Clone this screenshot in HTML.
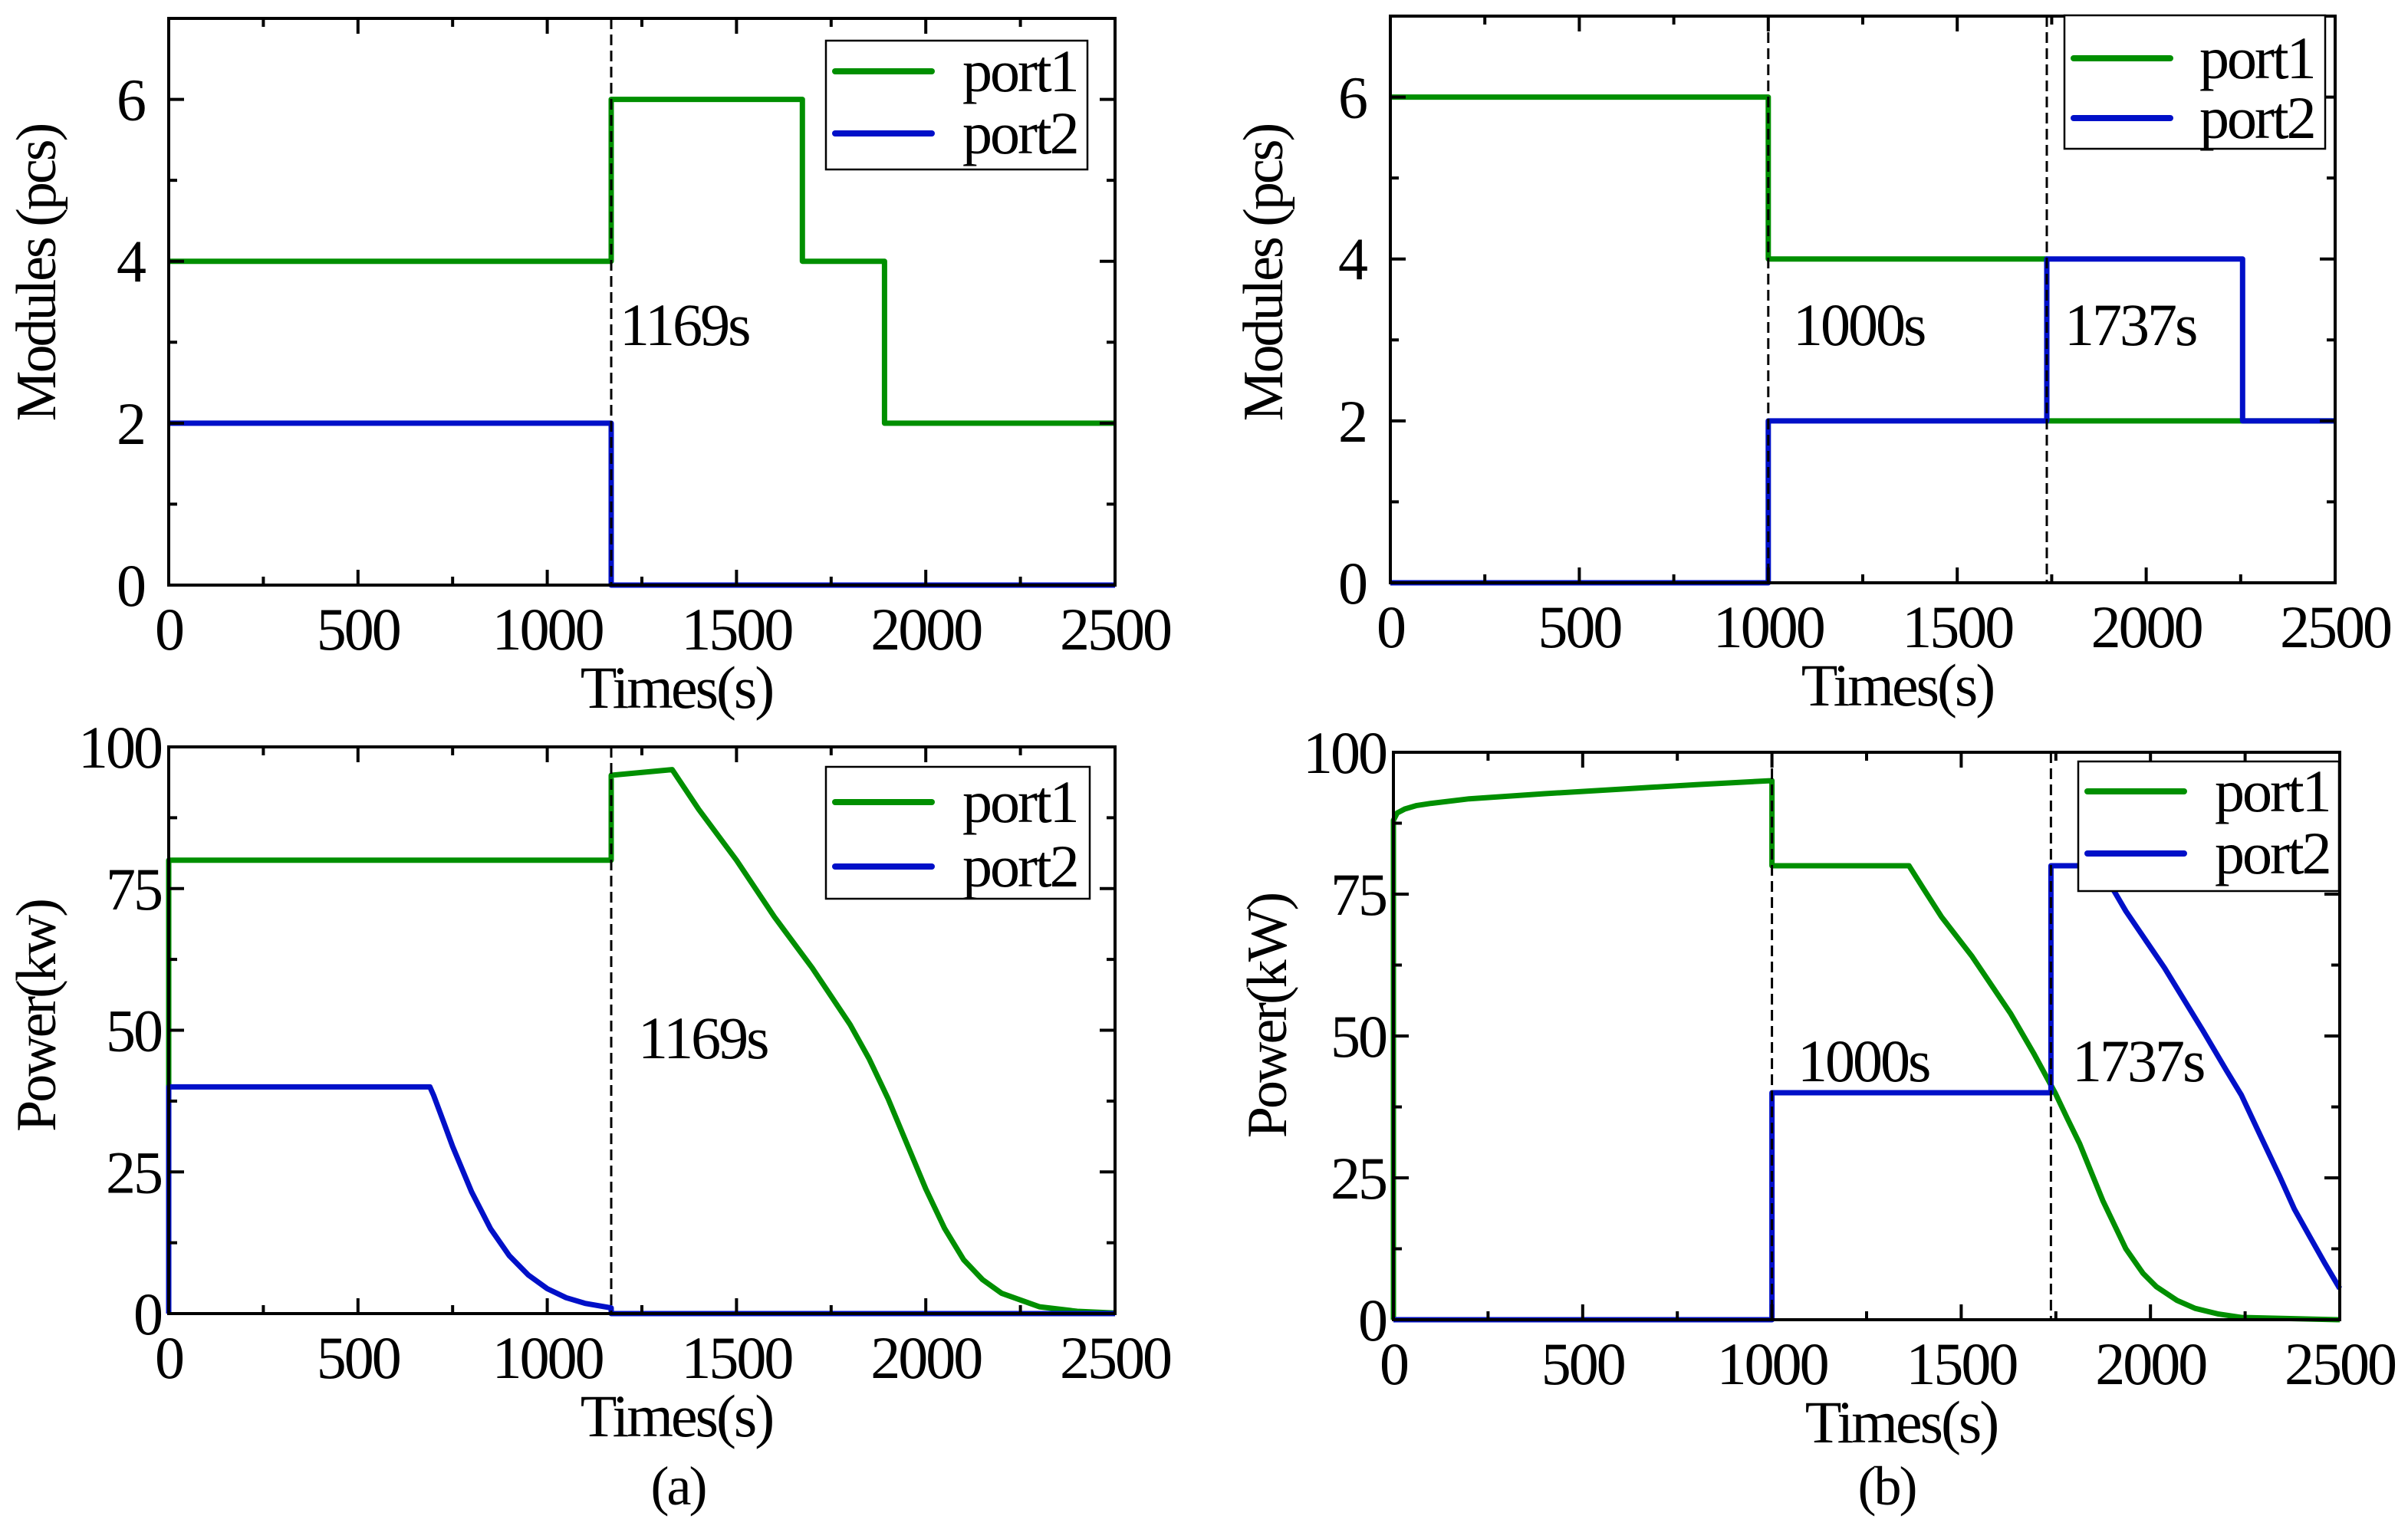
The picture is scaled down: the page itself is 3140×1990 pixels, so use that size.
<!DOCTYPE html>
<html><head><meta charset="utf-8">
<style>
html,body{margin:0;padding:0;background:#fff;}
svg{display:block;}
text{font-family:"Liberation Serif",serif;fill:#000;letter-spacing:-3px;}
</style></head>
<body>
<svg id="fig" xmlns="http://www.w3.org/2000/svg" width="3140" height="1990" viewBox="0 0 3140 1990">
<text x="884" y="1962" font-size="72" text-anchor="middle">(a)</text>
<text x="2460" y="1962" font-size="72" text-anchor="middle">(b)</text>
</svg>
<script>
// ---- data ----
// (a) modules
const aModT1 = [0, 1169, 1169, 1674, 1674, 1891, 1891, 2500];
const aModV1 = [4, 4, 6, 6, 4, 4, 2, 2];
const aModT2 = [0, 1169, 1169, 2500];
const aModV2 = [2, 2, 0, 0];
// (b) modules
const bModT1 = [0, 1000, 1000, 1737, 1737, 2500];
const bModV1 = [6, 6, 4, 4, 2, 2];
const bModT2 = [0, 1000, 1000, 1737, 1737, 2255, 2255, 2500];
const bModV2 = [0, 0, 2, 2, 4, 4, 2, 2];
// (a) power
const aPowT1 = [0, 0, 1169, 1169, 1330, 1400, 1500, 1600, 1700, 1800, 1850, 1900, 1950, 2000, 2050, 2100, 2150, 2200, 2300, 2400, 2500];
const aPowV1 = [0, 80, 80, 95, 96, 89, 80, 70, 61, 51, 45, 38, 30, 22, 15, 9.5, 6, 3.6, 1.2, 0.4, 0.1];
const aPowT2 = [0, 0, 690, 700, 725, 750, 800, 850, 900, 950, 1000, 1050, 1100, 1169, 1169, 2500];
const aPowV2 = [0, 40, 40, 38.5, 34, 29.5, 21.5, 15, 10.2, 6.8, 4.4, 2.8, 1.8, 1, 0, 0];
// (b) power
const bPowT1 = [0, 0, 10, 30, 60, 100, 200, 400, 600, 800, 1000, 1000, 1362, 1400, 1448, 1529, 1630, 1691, 1748, 1780, 1813, 1874, 1935, 1980, 2016, 2070, 2118, 2180, 2240, 2500];
const bPowV1 = [0, 88, 89.3, 90, 90.6, 91, 91.8, 92.7, 93.5, 94.3, 95, 80, 80, 76, 71, 64, 54, 47, 40, 35.5, 31, 21, 12.5, 8.2, 5.8, 3.4, 2, 1, 0.4, 0];
const bPowT2 = [0, 1000, 1000, 1737, 1737, 1853, 1900, 1935, 2037, 2138, 2200, 2240, 2290, 2341, 2380, 2422, 2460, 2500];
const bPowV2 = [0, 0, 40, 40, 80, 80, 76, 72, 62, 51, 44, 39.6, 32.5, 25.3, 19.5, 14.5, 10, 5.5];
// ticks
const xTicks = [0, 500, 1000, 1500, 2000, 2500];
const modTicks = [0, 2, 4, 6];
const powTicks = [0, 25, 50, 75, 100];

const NS = "http://www.w3.org/2000/svg";
const svg = document.getElementById('fig');
const GREEN = '#008f00', BLUE = '#0010c8';

function mk(tag, attrs, parent) {
  const e = document.createElementNS(NS, tag);
  for (const k in attrs) e.setAttribute(k, attrs[k]);
  (parent || svg).appendChild(e);
  return e;
}

function panel(p) {
  const g = mk('g', {});
  
  
  const sx = t => p.L + (t - 0) / 2500 * (p.R - p.L);
  const sy = v => p.B - (v - 0) / p.ymax * (p.B - p.T);
  p.series.forEach(s => {
    const pts = s.t.map((t, i) => sx(t).toFixed(1) + ',' + sy(s.v[i]).toFixed(1)).join(' ');
    const pl = mk('polyline', {points: pts, fill: 'none', stroke: s.color, 'stroke-width': 7, 'stroke-linejoin': 'round'}, g);
    
    
  });
  p.marks.forEach(m => {
    const ln = mk('line', {x1: sx(m), x2: sx(m), y1: p.T, y2: p.B, stroke: '#000', 'stroke-width': 3, 'stroke-dasharray': '14,7'}, g);
    
    
  });
  const fr = mk('rect', {x: p.L, y: p.T, width: p.R - p.L, height: p.B - p.T, fill: 'none', stroke: '#000', 'stroke-width': 4}, g);
  
  
  for (let t = 0; t <= 2500; t += 250) {
    const len = (t % 500 === 0) ? 20 : 11;
    mk('line', {x1: sx(t), x2: sx(t), y1: p.B, y2: p.B - len, stroke: '#000', 'stroke-width': 4}, g);
    mk('line', {x1: sx(t), x2: sx(t), y1: p.T, y2: p.T + len, stroke: '#000', 'stroke-width': 4}, g);
  }
  xTicks.forEach(t => {
    const tx = mk('text', {x: sx(t), y: p.B + 84, 'font-size': 78, 'text-anchor': 'middle'}, g);
    tx.textContent = t;
    
    
  });
  const step = p.yticks[1] - p.yticks[0];
  for (let v = 0; v <= p.ymax + 1e-9; v += step / 2) {
    const major = Math.abs(v / step - Math.round(v / step)) < 1e-6;
    const len = major ? 20 : 11;
    mk('line', {x1: p.L, x2: p.L + len, y1: sy(v), y2: sy(v), stroke: '#000', 'stroke-width': 4}, g);
    mk('line', {x1: p.R, x2: p.R - len, y1: sy(v), y2: sy(v), stroke: '#000', 'stroke-width': 4}, g);
  }
  p.yticks.forEach(v => {
    const tx = mk('text', {x: p.L - p.ylabGap, y: sy(v) + 27, 'font-size': 78, 'text-anchor': 'end'}, g);
    tx.textContent = v;
    
    
  });
  const xt = mk('text', {x: (p.L + p.R) / 2 + 45, y: p.B + 160, 'font-size': 78, 'text-anchor': 'middle'}, g);
  xt.textContent = 'Times(s)';
  
  
  const yt = mk('text', {x: 0, y: 0, 'font-size': 74, 'text-anchor': 'middle', transform: 'translate(' + (p.ytx + 45) + ',' + p.yty + ') rotate(-90)'}, g);
  yt.textContent = p.ytitle;
  
  
  p.notes.forEach(n => {
    const tx = mk('text', {x: n.x, y: n.y, 'font-size': 78}, g);
    tx.textContent = n.s;
    
    
  });
  const lg = mk('g', {}, g);
  
  
  const b = p.leg;
  mk('rect', {x: b.x, y: b.y, width: b.w, height: b.h, fill: '#fff', stroke: '#000', 'stroke-width': 2.5}, lg);
  [['port1', GREEN, b.l1], ['port2', BLUE, b.l2]].forEach(e => {
    const ent = mk('g', {}, lg);
    
    
    mk('line', {x1: b.x + 12, x2: b.x + 138, y1: e[2], y2: e[2], stroke: e[1], 'stroke-width': 8, 'stroke-linecap': 'round'}, ent);
    const tx = mk('text', {x: b.x + b.tx, y: e[2] + 26, 'font-size': 78}, ent);
    tx.textContent = e[0];
  });
}

panel({name: 'modules-chart-a', L: 220, R: 1454, T: 24, B: 763, ymax: 7, yticks: modTicks, ylabGap: 32,
  ytitle: 'Modules (pcs)', ytx: 27, yty: 356, marks: [1169],
  series: [{id: 'port1-line', t: aModT1, v: aModV1, color: GREEN}, {id: 'port2-line', t: aModT2, v: aModV2, color: BLUE}],
  notes: [{s: '1169s', x: 808, y: 450}],
  leg: {x: 1077, y: 53, w: 341, h: 168, l1: 93, l2: 174, tx: 178}});
panel({name: 'modules-chart-b', L: 1813, R: 3045, T: 21, B: 760, ymax: 7, yticks: modTicks, ylabGap: 32,
  ytitle: 'Modules (pcs)', ytx: 1627, yty: 356, marks: [1000, 1737],
  series: [{id: 'port1-line', t: bModT1, v: bModV1, color: GREEN}, {id: 'port2-line', t: bModT2, v: bModV2, color: BLUE}],
  notes: [{s: '1000s', x: 2338, y: 450}, {s: '1737s', x: 2692, y: 450}],
  leg: {x: 2692, y: 20, w: 340, h: 174, l1: 76, l2: 154, tx: 176}});
panel({name: 'power-chart-a', L: 220, R: 1454, T: 974, B: 1713, ymax: 100, yticks: powTicks, ylabGap: 10,
  ytitle: 'Power(kw)', ytx: 27, yty: 1325, marks: [1169],
  series: [{id: 'port1-line', t: aPowT1, v: aPowV1, color: GREEN}, {id: 'port2-line', t: aPowT2, v: aPowV2, color: BLUE}],
  notes: [{s: '1169s', x: 832, y: 1380}],
  leg: {x: 1077, y: 1000, w: 344, h: 172, l1: 1046, l2: 1130, tx: 178}});
panel({name: 'power-chart-b', L: 1817, R: 3051, T: 981, B: 1721, ymax: 100, yticks: powTicks, ylabGap: 10,
  ytitle: 'Power(kW)', ytx: 1632, yty: 1325, marks: [1000, 1737],
  series: [{id: 'port1-line', t: bPowT1, v: bPowV1, color: GREEN}, {id: 'port2-line', t: bPowT2, v: bPowV2, color: BLUE}],
  notes: [{s: '1000s', x: 2344, y: 1410}, {s: '1737s', x: 2702, y: 1410}],
  leg: {x: 2710, y: 993, w: 340, h: 169, l1: 1032, l2: 1113, tx: 178}});
</script>
</body></html>
